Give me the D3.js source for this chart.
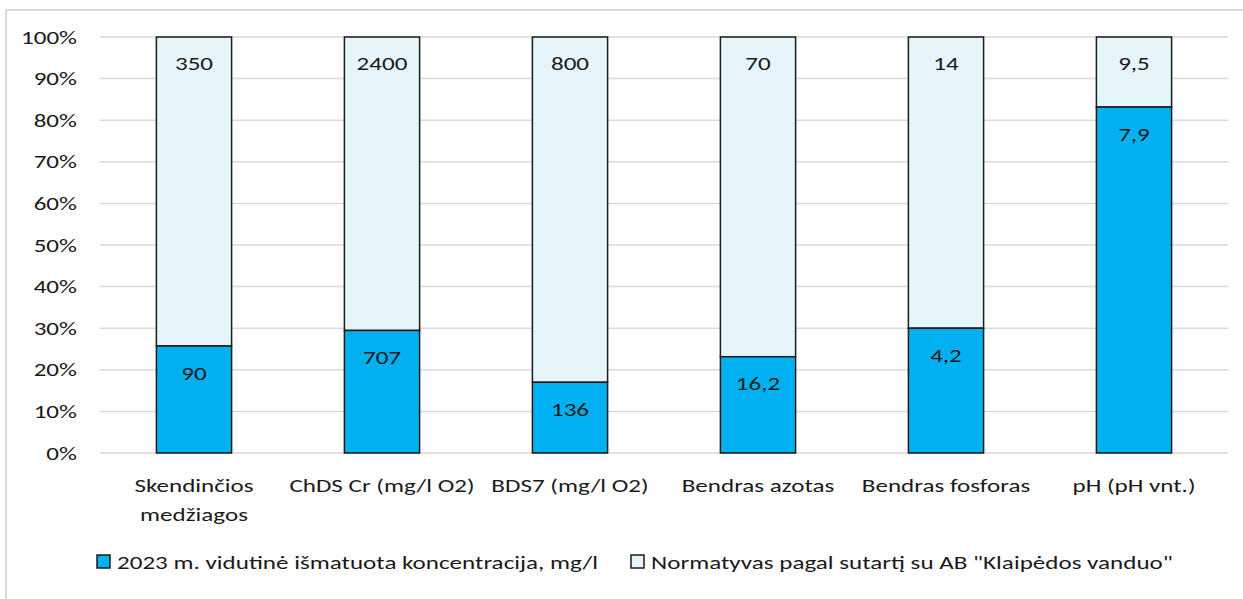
<!DOCTYPE html>
<html>
<head>
<meta charset="utf-8">
<script src="https://cdn.jsdelivr.net/npm/d3@7"></script>
<style>
  body { margin: 0; background: #fff; }
  text { font-family: Carlito, Lato, "Open Sans", sans-serif; fill: #1a1a1a; }
</style>
</head>
<body>
<svg id="chart" width="1243" height="599"></svg>
<script>
// categories and values
const categories = [["Skendinčios", "medžiagos"], ["ChDS Cr (mg/l O2)"], ["BDS7 (mg/l O2)"], ["Bendras azotas"], ["Bendras fosforas"], ["pH (pH vnt.)"]];
const measured = [90, 707, 136, 16.2, 4.2, 7.9];
const normative = [350, 2400, 800, 70, 14, 9.5];
const seriesNames = ["2023 m. vidutinė išmatuota koncentracija, mg/l", "Normatyvas pagal sutartį su AB \"Klaipėdos vanduo\""];
const yTicks = [0, 0.1, 0.2, 0.3, 0.4, 0.5, 0.6, 0.7, 0.8, 0.9, 1];

const colors = ["#00B0F0", "#E6F5FA"];
const fmt = v => String(v).replace(".", ",");
const sx = 1.32; // the source picture is stretched sideways, so text is too

const svg = d3.select("#chart");

// light frame (only top and left edge visible in the crop)
svg.append("line").attr("x1", 6).attr("x2", 1243).attr("y1", 10).attr("y2", 10).attr("stroke", "#d9d9d9").attr("stroke-width", 2);
svg.append("line").attr("x1", 6).attr("x2", 6).attr("y1", 10).attr("y2", 599).attr("stroke", "#d9d9d9").attr("stroke-width", 2);

const x = d3.scaleBand().domain(d3.range(categories.length)).range([100, 1228]).paddingInner(0.6).paddingOuter(0.3);
const y = d3.scaleLinear().domain([0, 1]).range([453, 37]);
const at = (px, py) => `translate(${px},${py}) scale(${sx},1)`;

// gridlines
svg.append("g").selectAll("line").data(yTicks).join("line")
  .attr("x1", 100).attr("x2", 1228)
  .attr("y1", d => y(d)).attr("y2", d => y(d))
  .attr("stroke", "#d9d9d9").attr("stroke-width", 1.5);

// y tick labels
svg.append("g").selectAll("text").data(yTicks).join("text")
  .attr("transform", d => at(77, y(d))).attr("dy", "0.35em")
  .attr("text-anchor", "end").attr("font-size", 19)
  .text(d => Math.round(d * 100) + "%");

// each bar: bottom = measured share of normative, top fills to 100%
const rows = measured.map((m, i) => ({ i, m, n: normative[i], share: m / normative[i] }));

const bars = svg.append("g").selectAll("g").data(rows).join("g");

bars.append("rect")
  .attr("x", d => x(d.i)).attr("width", x.bandwidth())
  .attr("y", y(1)).attr("height", d => y(d.share) - y(1))
  .attr("fill", colors[1]).attr("stroke", "#1a1a1a").attr("stroke-width", 1.5);

bars.append("rect")
  .attr("x", d => x(d.i)).attr("width", x.bandwidth())
  .attr("y", d => y(d.share)).attr("height", d => y(0) - y(d.share))
  .attr("fill", colors[0]).attr("stroke", "#1a1a1a").attr("stroke-width", 1.5);

// value labels (inside end)
bars.append("text")
  .attr("transform", d => at(x(d.i) + x.bandwidth() / 2, y(1) + 26)).attr("dy", "0.35em")
  .attr("text-anchor", "middle").attr("font-size", 19)
  .text(d => fmt(d.n));

bars.append("text")
  .attr("transform", d => at(x(d.i) + x.bandwidth() / 2, y(d.share) + 27)).attr("dy", "0.35em")
  .attr("text-anchor", "middle").attr("font-size", 19)
  .text(d => fmt(d.m));

// category labels
const cat = svg.append("g").selectAll("text").data(categories).join("text")
  .attr("transform", (d, i) => at(x(i) + x.bandwidth() / 2, 485))
  .attr("text-anchor", "middle").attr("font-size", 19);
cat.selectAll("tspan").data(d => d).join("tspan")
  .attr("x", 0)
  .attr("dy", (d, j) => j === 0 ? "0.35em" : "1.55em")
  .text(d => d);

// legend
const legendX = [97, 631];
const leg = svg.append("g").selectAll("g").data(seriesNames).join("g")
  .attr("transform", (d, i) => `translate(${legendX[i]}, 555)`);
leg.append("rect").attr("width", 13).attr("height", 13)
  .attr("fill", (d, i) => colors[i]).attr("stroke", "#1a1a1a").attr("stroke-width", 1.5);
leg.append("text").attr("transform", at(20, 7)).attr("dy", "0.35em")
  .attr("font-size", 19).text(d => d);
</script>
</body>
</html>
